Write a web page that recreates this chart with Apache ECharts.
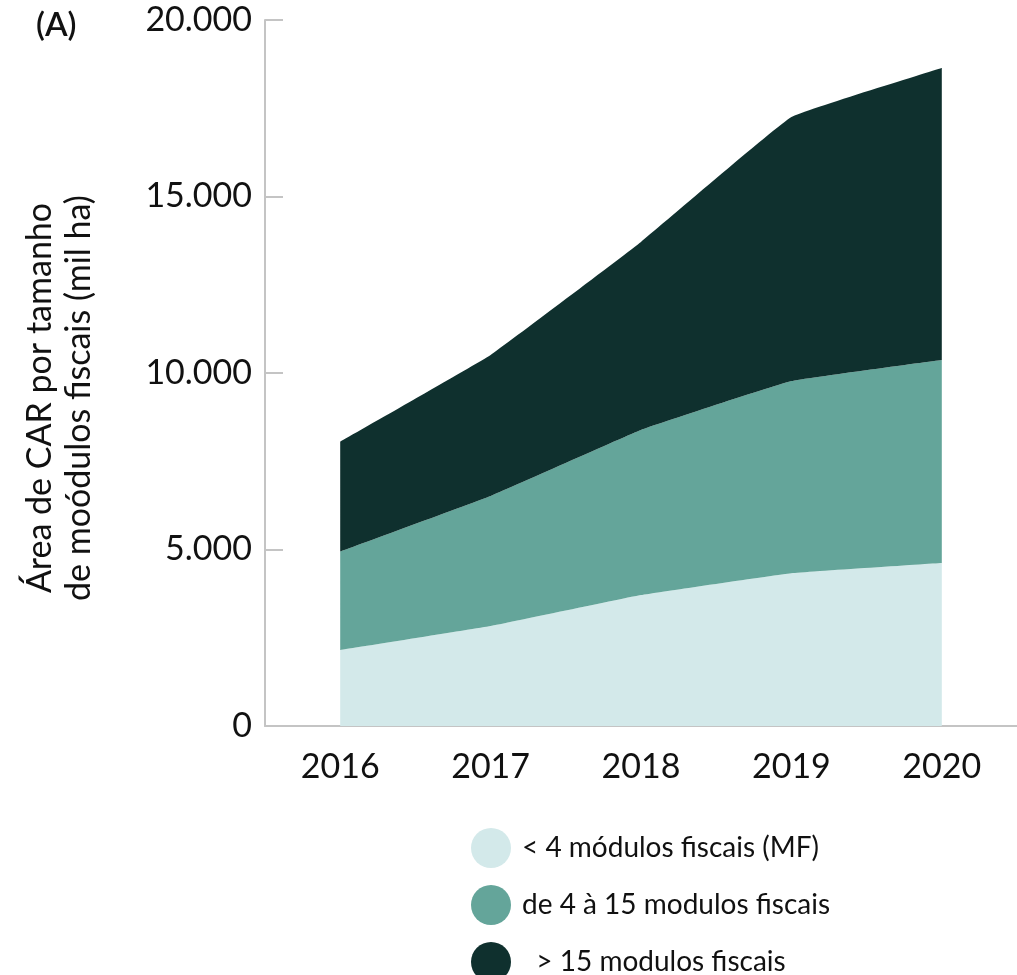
<!DOCTYPE html>
<html>
<head>
<meta charset="utf-8">
<script src="https://cdn.jsdelivr.net/npm/echarts@6/dist/echarts.min.js"></script>
<style>
html,body{margin:0;padding:0;background:#fff;}
#chart{width:1017px;height:975px;}
</style>
</head>
<body>
<div id="chart"></div>
<script>
const categories = ['2016', '2017', '2018', '2019', '2020'];
const seriesNames = ['< 4 módulos fiscais (MF)', 'de 4 à 15 modulos fiscais', '  > 15 modulos fiscais'];
const smallValues = [2150, 2830, 3710, 4330, 4620];
const mediumValues = [2790, 3685, 4675, 5440, 5750];
const largeValues = [3115, 3995, 5325, 7480, 8270];
const yTicks = [0, 5000, 10000, 15000, 20000];
const colors = ['#d3e9ea', '#64a59a', '#0f302e'];

const chart = echarts.init(document.getElementById('chart'));
const font = 'Lato';
const valuesList = [smallValues, mediumValues, largeValues];

chart.setOption({
  animation: false,
  backgroundColor: '#ffffff',
  grid: { left: 265, width: 759, top: 20, height: 706, containLabel: false },
  title: {
    text: '(A)', left: 36, top: 9, padding: 0,
    textStyle: { fontFamily: font, fontSize: 33, fontWeight: 600, color: '#111111' }
  },
  legend: {
    orient: 'vertical', left: 466, top: 823, height: 160,
    itemWidth: 40, itemHeight: 40, itemGap: 17,
    icon: 'circle',
    data: seriesNames,
    textStyle: { fontFamily: font, fontSize: 28, color: '#111111', padding: [0, 0, 0, 6] }
  },
  xAxis: {
    type: 'category', data: categories, boundaryGap: true,
    axisLine: { lineStyle: { color: '#c4c4c4', width: 2 } },
    axisTick: { show: false },
    axisLabel: { fontFamily: font, fontSize: 34, color: '#111111', margin: 24 }
  },
  yAxis: {
    type: 'value', min: yTicks[0], max: yTicks[yTicks.length - 1], interval: 5000,
    name: 'Área de CAR por tamanho\nde moódulos fiscais (mil ha)',
    nameLocation: 'middle', nameRotate: 90, nameGap: 166,
    nameTextStyle: { fontFamily: font, fontSize: 34, color: '#111111', lineHeight: 39, align: 'center', padding: [0, 50, 0, 0] },
    axisLine: { show: true, lineStyle: { color: '#c4c4c4', width: 2 } },
    axisTick: { show: true, inside: true, length: 18, lineStyle: { color: '#c4c4c4', width: 2 } },
    splitLine: { show: false },
    axisLabel: {
      fontFamily: font, fontSize: 34, color: '#111111', margin: 13,
      formatter: v => v === 0 ? '0' : v.toLocaleString('de-DE')
    }
  },
  series: seriesNames.map((n, i) => ({
    name: n, type: 'line', stack: 'total', data: valuesList[i],
    smooth: 0.08, showSymbol: false, symbol: 'none',
    lineStyle: { width: 0 },
    areaStyle: { color: colors[i], opacity: 1 },
    itemStyle: { color: colors[i] }
  }))
});
</script>
</body>
</html>
